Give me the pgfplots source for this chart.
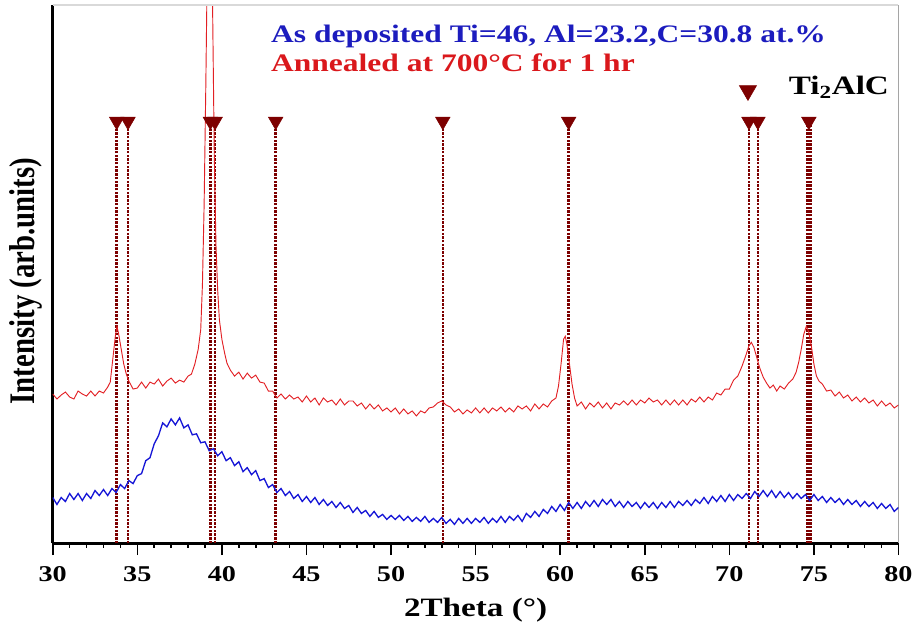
\documentclass[border=0pt]{standalone}
\usepackage{pgfplots}
\pgfplotsset{compat=1.18}
\usepackage{fontspec}
\usepackage{graphicx}
\setmainfont{Liberation Serif}[FakeStretch=1.25]
\newfontfamily\ylabfont{Liberation Serif}
\definecolor{curvered}{RGB}{226,32,36}
\definecolor{curveblue}{RGB}{22,22,214}
\definecolor{peakred}{RGB}{125,0,0}
\definecolor{txtblue}{RGB}{28,28,190}
\definecolor{txtred}{RGB}{218,24,28}
\begin{document}
\begin{tikzpicture}
\begin{axis}[
  name=ax,
  scale only axis,
  width=637.5pt, height=405.75pt,
  xmin=30, xmax=80, ymin=0, ymax=541,
  axis x line*=bottom, axis y line*=left,
  axis line style={line width=2pt, black},
  xtick={30,35,...,80}, ytick=\empty,
  minor x tick num=4,
  tick align=outside,
  major tick length=9pt, minor tick length=3.5pt,
  every tick/.style={black, line width=1.2pt},
  /pgf/number format/assume math mode=true,
  xticklabel style={font=\fontsize{17}{20}\selectfont\bfseries, yshift=-5pt},
  xlabel={2Theta (°)},
  every axis x label/.style={at={(rel axis cs:0.5,0)}, anchor=base, yshift=-55.5pt, font=\fontsize{20}{24}\selectfont\bfseries},
  ylabel={\scalebox{1}[1.25]{\ylabfont\bfseries Intensity (arb.units)}},
  every axis y label/.style={at={(rel axis cs:0,0.487)}, rotate=90, anchor=center, yshift=20pt, font=\fontsize{21.7}{26}\selectfont},
  clip=true,
]
% reference lines (Ti2AlC)
\addplot+[ycomb, no markers, peakred, densely dotted, line width=1.8pt] coordinates {
 (33.78,424) (34.45,424) (39.32,424) (39.6,424) (43.18,424) (53.06,424)
 (60.5,424) (71.16,424) (71.69,424) (74.62,424) (74.8,424)
};
\addplot+[only marks, mark=triangle*, mark size=6.3pt, mark options={rotate=180, fill=peakred, draw=peakred, solid}] coordinates {
 (33.78,424) (34.45,424) (39.32,424) (39.6,424) (43.18,424) (53.06,424)
 (60.5,424) (71.16,424) (71.69,424) (74.7,424)
};
% legend marker
\addplot+[only marks, mark=triangle*, mark size=7.5pt, mark options={rotate=180, fill=peakred, draw=peakred, solid}] coordinates {(71.1,455)};
% annealed (red)
\addplot[curvered, line width=0.7pt] coordinates {
(30.00,150) (30.25,145) (30.50,149) (30.75,152) (31.00,147) (31.25,145) (31.50,153) (31.75,150)
(32.00,148) (32.25,153) (32.50,148) (32.75,153) (33.00,151) (33.25,157) (33.40,162) (33.55,185)
(33.70,208) (33.80,218) (33.90,210) (34.05,195) (34.20,180) (34.35,170) (34.50,163) (34.75,155)
(35.00,156) (35.25,162) (35.50,156) (35.75,162) (36.00,160) (36.25,165) (36.50,158) (36.75,163)
(37.00,166) (37.25,161) (37.50,164) (37.75,162) (38.00,168) (38.20,170) (38.40,180) (38.60,195)
(38.75,215) (38.85,260) (38.95,340) (39.05,460) (39.15,600) (39.25,750) (39.35,750) (39.45,540)
(39.55,390) (39.65,300) (39.75,255) (39.85,225) (40.00,205) (40.15,192) (40.30,181) (40.50,174)
(40.75,168) (41.00,172) (41.25,165) (41.50,171) (41.75,166) (42.00,169) (42.25,162) (42.50,161)
(42.75,153) (43.00,153) (43.25,146) (43.50,150) (43.75,145) (44.00,149) (44.25,145) (44.50,147)
(44.75,142) (45.00,148) (45.25,142) (45.50,146) (45.75,139) (46.00,146) (46.25,142) (46.50,144)
(46.75,139) (47.00,145) (47.25,139) (47.50,143) (47.75,143) (48.00,138) (48.25,141) (48.50,135)
(48.75,140) (49.00,135) (49.25,139) (49.50,133) (49.75,136) (50.00,132) (50.25,136) (50.50,130)
(50.75,135) (51.00,130) (51.25,133) (51.50,128) (51.75,133) (52.00,131) (52.25,136) (52.50,137)
(52.75,141) (53.00,143) (53.25,139) (53.50,137) (53.75,132) (54.00,135) (54.25,130) (54.50,134)
(54.75,131) (55.00,136) (55.25,131) (55.50,136) (55.75,131) (56.00,136) (56.25,133) (56.50,137)
(56.75,132) (57.00,136) (57.25,132) (57.50,138) (57.75,135) (58.00,138) (58.25,133) (58.50,140)
(58.75,135) (59.00,140) (59.25,137) (59.50,143) (59.75,146) (59.90,158) (60.05,180) (60.20,205)
(60.30,208) (60.40,200) (60.55,180) (60.70,160) (60.85,146) (61.00,138) (61.25,142) (61.50,135)
(61.75,141) (62.00,137) (62.25,142) (62.50,136) (62.75,141) (63.00,135) (63.25,141) (63.50,139)
(63.75,143) (64.00,139) (64.25,144) (64.50,139) (64.75,144) (65.00,141) (65.25,146) (65.50,142)
(65.75,144) (66.00,139) (66.25,144) (66.50,139) (66.75,144) (67.00,139) (67.25,144) (67.50,139)
(67.75,145) (68.00,142) (68.25,147) (68.50,142) (68.75,147) (69.00,144) (69.25,151) (69.50,149)
(69.75,155) (70.00,155) (70.25,164) (70.50,168) (70.75,178) (71.00,190) (71.15,198) (71.30,202)
(71.45,197) (71.60,188) (71.80,176) (72.00,167) (72.20,161) (72.40,156) (72.60,159) (72.80,153)
(73.00,158) (73.25,155) (73.50,161) (73.75,165) (73.95,172) (74.10,182) (74.25,195) (74.40,210)
(74.55,218) (74.70,212) (74.85,198) (75.00,180) (75.15,168) (75.30,163) (75.50,160) (75.75,153)
(76.00,154) (76.25,148) (76.50,152) (76.75,146) (77.00,149) (77.25,143) (77.50,147) (77.75,142)
(78.00,146) (78.25,141) (78.50,144) (78.75,138) (79.00,143) (79.25,138) (79.50,141) (79.75,136)
(80.00,139)
};
% as deposited (blue)
\addplot[curveblue, line width=1pt] coordinates {
(30.00,46) (30.25,39) (30.50,46) (30.75,42) (31.00,50) (31.25,44) (31.50,50) (31.75,43)
(32.00,50) (32.25,45) (32.50,53) (32.75,48) (33.00,54) (33.25,48) (33.50,55) (33.75,51)
(34.00,59) (34.25,55) (34.50,63) (34.75,60) (35.00,68) (35.25,70) (35.50,83) (35.75,86)
(36.00,100) (36.25,108) (36.50,121) (36.75,117) (37.00,125) (37.25,119) (37.50,126) (37.75,116)
(38.00,119) (38.25,109) (38.50,110) (38.75,101) (39.00,102) (39.25,93) (39.50,95) (39.75,88)
(40.00,92) (40.25,83) (40.50,86) (40.75,78) (41.00,82) (41.25,72) (41.50,76) (41.75,69)
(42.00,73) (42.25,63) (42.50,65) (42.75,56) (43.00,59) (43.25,51) (43.50,55) (43.75,48)
(44.00,52) (44.25,45) (44.50,49) (44.75,42) (45.00,47) (45.25,41) (45.50,46) (45.75,39)
(46.00,44) (46.25,38) (46.50,42) (46.75,36) (47.00,41) (47.25,35) (47.50,38) (47.75,31)
(48.00,36) (48.25,30) (48.50,33) (48.75,27) (49.00,32) (49.25,26) (49.50,29) (49.75,24)
(50.00,28) (50.25,24) (50.50,28) (50.75,23) (51.00,27) (51.25,22) (51.50,26) (51.75,22)
(52.00,27) (52.25,21) (52.50,25) (52.75,21) (53.00,26) (53.25,20) (53.50,24) (53.75,19)
(54.00,25) (54.25,20) (54.50,25) (54.75,20) (55.00,25) (55.25,21) (55.50,26) (55.75,20)
(56.00,25) (56.25,21) (56.50,27) (56.75,21) (57.00,27) (57.25,23) (57.50,28) (57.75,22)
(58.00,30) (58.25,26) (58.50,32) (58.75,27) (59.00,34) (59.25,30) (59.50,37) (59.75,32)
(60.00,39) (60.25,33) (60.50,41) (60.75,35) (61.00,41) (61.25,35) (61.50,42) (61.75,37)
(62.00,43) (62.25,37) (62.50,44) (62.75,39) (63.00,44) (63.25,37) (63.50,42) (63.75,36)
(64.00,42) (64.25,37) (64.50,41) (64.75,35) (65.00,41) (65.25,36) (65.50,41) (65.75,35)
(66.00,41) (66.25,36) (66.50,42) (66.75,36) (67.00,42) (67.25,38) (67.50,43) (67.75,38)
(68.00,44) (68.25,40) (68.50,46) (68.75,40) (69.00,47) (69.25,42) (69.50,48) (69.75,42)
(70.00,49) (70.25,43) (70.50,49) (70.75,45) (71.00,50) (71.25,45) (71.50,52) (71.75,47)
(72.00,53) (72.25,47) (72.50,53) (72.75,46) (73.00,52) (73.25,46) (73.50,51) (73.75,45)
(74.00,50) (74.25,45) (74.50,49) (74.75,43) (75.00,49) (75.25,43) (75.50,47) (75.75,41)
(76.00,46) (76.25,41) (76.50,45) (76.75,39) (77.00,44) (77.25,39) (77.50,43) (77.75,37)
(78.00,42) (78.25,37) (78.50,41) (78.75,35) (79.00,40) (79.25,35) (79.50,39) (79.75,32)
(80.00,36)
};
\node[anchor=base west, txtblue, font=\fontsize{19}{22}\selectfont\bfseries, inner sep=0pt] at (axis cs:42.9,503) {As deposited Ti=46, Al=23.2,C=30.8 at.\%};
\node[anchor=base west, txtred, font=\fontsize{19}{22}\selectfont\bfseries, inner sep=0pt] at (axis cs:42.9,474) {Annealed at 700°C for 1 hr};
\node[anchor=west, black, font=\fontsize{20}{24}\selectfont\bfseries, inner sep=0pt] at (axis cs:73.5,458) {Ti\textsubscript{2}AlC};
\draw[line width=1.5pt, black] (rel axis cs:1,0) -- (rel axis cs:1,1);
\draw[line width=0.8pt, black!15] (rel axis cs:0,1) -- (rel axis cs:1,1);
\end{axis}
\path[use as bounding box] ([shift={(-39.75pt,-61.5pt)}]ax.south west) rectangle ([shift={(10.5pt,3.75pt)}]ax.north east);
\end{tikzpicture}
\end{document}
